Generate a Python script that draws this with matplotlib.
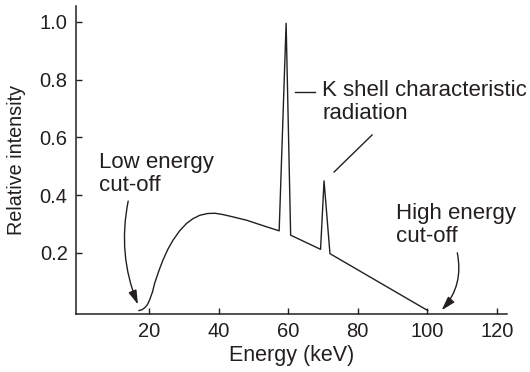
import matplotlib
matplotlib.use("Agg")
import matplotlib.pyplot as plt

# spectrum
energy = [17.1, 18.0, 18.8, 19.5, 20.2, 21.0, 21.6, 22.8, 24.0, 25.4, 26.9,
          28.8, 30.8, 32.6, 34.6, 36.8, 38.9, 41.0, 43.2, 45.6, 48.0, 51.0,
          53.8, 57.4, 59.4, 60.7, 69.3, 70.3, 72.0, 100.1]
intensity = [0.0, 0.003, 0.01, 0.02, 0.038, 0.065, 0.094, 0.137, 0.175, 0.212,
             0.244, 0.276, 0.302, 0.318, 0.330, 0.336, 0.337, 0.333, 0.327,
             0.320, 0.313, 0.301, 0.290, 0.276, 0.995, 0.261, 0.212, 0.449,
             0.197, 0.0]
xticks = [20, 40, 60, 80, 100, 120]
yticks = [0.2, 0.4, 0.6, 0.8, 1.0]

ink = '#231f20'
plt.rcParams['font.family'] = ['Liberation Sans', 'DejaVu Sans']
plt.rcParams['font.size'] = 16
plt.rcParams['text.color'] = ink

fig = plt.figure(figsize=(5.3, 3.72), dpi=100)
ax = fig.add_axes([0.1434, 0.1567, 0.956 - 0.1434, 0.984 - 0.1567])

ax.plot(energy, intensity, color=ink, lw=1.0)

ax.set_xlim(-1, 122.8)
ax.set_ylim(-0.011, 1.055)
ax.set_xticks(xticks)
ax.set_yticks(yticks)
ax.set_yticklabels([f'{v:.1f}' for v in yticks])
ax.tick_params(direction='in', length=4.5, width=1.0, colors=ink,
               labelsize=14.5)
ax.tick_params(axis='x', pad=6)
ax.tick_params(axis='y', pad=6)
for side in ['top', 'right']:
    ax.spines[side].set_visible(False)
for side in ['left', 'bottom']:
    ax.spines[side].set_linewidth(1.1)
    ax.spines[side].set_color(ink)

ax.set_xlabel('Energy (keV)', color=ink, fontsize=15.5, labelpad=3)
ax.set_ylabel('Relative intensity', color=ink, fontsize=14.2, labelpad=10)

# annotations
ax.text(5.6, 0.472, 'Low energy\ncut-off', ha='left', va='center',
        linespacing=1.1)
ax.annotate('', xy=(16.8, 0.021), xytext=(14.0, 0.379),
            arrowprops=dict(arrowstyle='-|>,head_length=0.6,head_width=0.18',
                            mutation_scale=14, color=ink, lw=1.0,
                            connectionstyle='arc3,rad=0.15',
                            shrinkA=0, shrinkB=0))

ax.text(91.0, 0.296, 'High energy\ncut-off', ha='left', va='center',
        linespacing=1.1)
ax.annotate('', xy=(104.1, 0.001), xytext=(108.6, 0.2),
            arrowprops=dict(arrowstyle='-|>,head_length=0.6,head_width=0.18',
                            mutation_scale=14, color=ink, lw=1.0,
                            connectionstyle='arc3,rad=-0.25',
                            shrinkA=0, shrinkB=0))

ax.text(69.8, 0.722, 'K shell characteristic\nradiation', ha='left',
        va='center', linespacing=1.1)
ax.plot([61.9, 67.7], [0.758, 0.758], color=ink, lw=1.0)
ax.plot([84.1, 73.2], [0.608, 0.48], color=ink, lw=1.0)

fig.savefig('out.png', dpi=100)
